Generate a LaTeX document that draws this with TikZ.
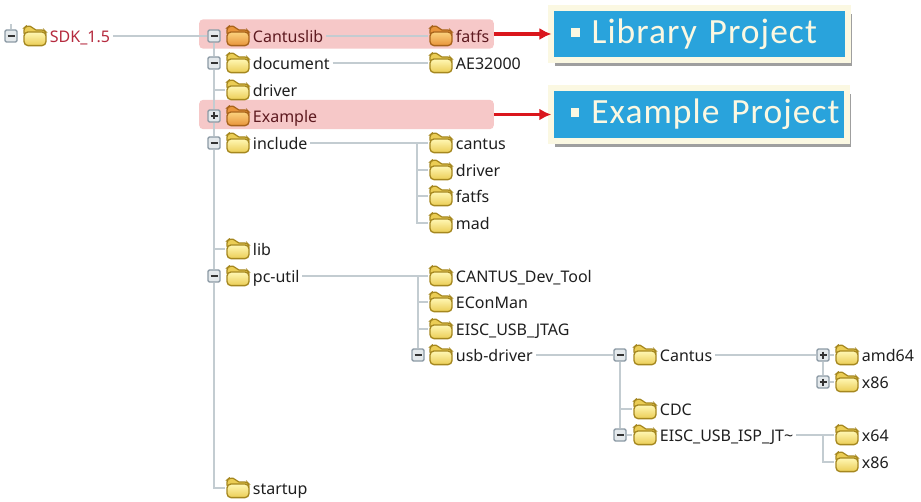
\documentclass[tikz,border=0pt]{standalone}
\usepackage{fontspec}
\setmainfont{Noto Sans}
\newfontfamily\callfont[LetterSpace=3]{Carlito}
\usetikzlibrary{
    arrows.meta,
    calc,
    positioning,
    shadows
}
\definecolor{treeline}{HTML}{C3CCD1}
\definecolor{boxline}{HTML}{8C9AA5}
\definecolor{boxfill}{HTML}{E4E9EC}
\definecolor{folderline}{HTML}{A5871F}
\definecolor{foldertop}{HTML}{FFF7B4}
\definecolor{folderbot}{HTML}{EBCD55}
\definecolor{hotline}{HTML}{A8631A}
\definecolor{hottop}{HTML}{FBD27E}
\definecolor{hotbot}{HTML}{E8943A}
\definecolor{bandpink}{HTML}{F6C8C8}
\definecolor{callblue}{HTML}{29A3DC}
\definecolor{callcream}{HTML}{FBF8E2}
\definecolor{arrowred}{HTML}{DA161C}
\definecolor{sdkred}{HTML}{B52A3E}
\definecolor{hottext}{HTML}{5E1A20}
\tikzset{
    foldershape/.style n args={3}{
        minimum width=18.6pt, minimum height=16pt, inner sep=0pt,
        path picture={
            \begin{scope}[shift={(path picture bounding box.center)}]
                \draw[#1, fill=#3, line width=0.9pt, rounded corners=1.5pt]
                    (-11,-1) -- (-11,-8) -- (-9,-9.8) -- (-3,-9.8) -- (-1,-6) -- (9,-6) -- (11,-4) -- (11,0) -- cycle;
                \draw[#1, top color=#2, bottom color=#3, line width=1pt, rounded corners=3pt]
                    (-11,-4) rectangle (11,9.6);
            \end{scope}
        }
    },
    folder/.style={foldershape={folderline}{foldertop}{folderbot}},
    hotfolder/.style={foldershape={hotline}{hottop}{hotbot}},
    lbl/.style={anchor=west, inner sep=0pt, text height=9.5pt, text depth=2.5pt, xshift=1.5pt, yshift=-1.1pt,
        font=\fontsize{12}{14}\selectfont, text=black!88},
    expbox/.style={draw=boxline, fill=boxfill, line width=1pt, rounded corners=1pt,
        minimum size=9pt, inner sep=0pt},
    minusbox/.style={expbox, path picture={
        \draw[black!80, line width=1pt] ($(path picture bounding box.center)+(-3.5,0)$) -- ++(7,0);}},
    plusbox/.style={expbox, path picture={
        \draw[black!80, line width=1pt] ($(path picture bounding box.center)+(-3.5,0)$) -- ++(7,0);
        \draw[black!80, line width=1pt] ($(path picture bounding box.center)+(0,-3.5)$) -- ++(0,7);}},
    tree/.style={draw=treeline, line width=0.9pt},
    fromlabel/.style={tree, shorten <=2pt},
    band/.style={fill=bandpink, rounded corners=3pt, minimum width=221pt, minimum height=22pt, inner sep=0pt},
    callout/.style={fill=callblue, draw=callcream, line width=4.5pt, outer sep=0pt, inner sep=0pt,
        general shadow={shadow xshift=2.8pt, shadow yshift=-4.6pt, fill=black!50, opacity=0.75},
        minimum height=39.4pt, align=left, text=callcream,
        font=\callfont\fontsize{26.6}{28}\selectfont},
    redarrow/.style={draw=arrowred, line width=2.3pt, -{Latex[length=9pt, width=9pt]}}
}
\newcommand{\callbullet}{\hspace*{14.6pt}\textcolor{callcream}{\raisebox{5pt}{\rule{6.5pt}{6.5pt}}}\hspace*{9pt}}
\begin{document}
\begin{tikzpicture}[x=0.75pt, y=-0.75pt]
    \useasboundingbox[fill=white] (0,0) rectangle (921,502);
    % highlight bands
    \node[band] (bandcantus) at (346.5,34) {};
    \node[band] (bandexample) at (346.5,114.5) {};
    % callouts
    \node[callout, text width=222.4pt] (calllib) at (699.75,34) {\callbullet Library Project};
    \node[callout, text width=222pt] (callex) at (699.25,114.5) {\callbullet Example Project};
    % folders with their labels
    \foreach \nm/\px/\py/\txt in {
        document/238/63/document, driver/238/90/driver, include/238/143/include,
        lib/238/249/lib, pcutil/238/276/pc-util, startup/238/488/startup,
        aedir/441/63/AE32000,
        cantus/441/143/cantus, drivertwo/441/170/driver, fatfstwo/441/196/fatfs, mad/441/223/mad,
        devtool/441/276/CANTUS\_Dev\_Tool, econman/441/302/EConMan, jtag/441/329/EISC\_USB\_JTAG,
        usbdriver/441/355/usb-driver,
        cantusdrv/645/355/Cantus, cdc/645/409/CDC, ispjt/645/435/EISC\_USB\_ISP\_JT\textasciitilde,
        amd/847/355/amd64, xa/847/382/x86, xsf/847/435/x64, xb/847/462/x86
    }{
        \node[folder] (\nm) at (\px,\py) {};
        \node[lbl] (\nm t) at (\nm.east) {\txt};
    }
    \foreach \nm/\px/\py/\txt in {
        cantuslib/238/36/Cantuslib, example/238/116/Example, fatfs/441/36/fatfs
    }{
        \node[hotfolder] (\nm) at (\px,\py) {};
        \node[lbl, text=hottext] (\nm t) at (\nm.east) {\txt};
    }
    \node[folder] (sdk) at (35,36) {};
    \node[lbl, text=sdkred] (sdkt) at (sdk.east) {SDK\_1.5};
    % expand boxes
    \foreach \nm/\px/\py in {
        bsdk/11/36, bcantuslib/214/36, bdocument/214/63, binclude/214/143, bpcutil/214/276,
        busb/418/355, bcantusdrv/620/355, bisp/620/435
    }{
        \node[minusbox] (\nm) at (\px,\py) {};
    }
    \foreach \nm/\px/\py in {
        bexample/214/116, bamd/823/355, bxa/823/382
    }{
        \node[plusbox] (\nm) at (\px,\py) {};
    }
    \coordinate (sdktop) at (11,24);
    \coordinate (jinclude) at (417,143);
    \coordinate (jpcutil) at (418,276);
    \coordinate (jisp) at (823,435);
    % tree lines
    \path[tree]
        (bsdk) -- (sdktop)
        (bcantuslib) -- (bdocument) -- (driver -| bdocument) -- (bexample) -- (binclude)
            -- (lib -| binclude) -- (bpcutil) -- (startup -| bpcutil) -- (startup)
        (driver -| bdocument) -- (driver)
        (lib -| bdocument) -- (lib)
        (jinclude) -- (mad -| jinclude) -- (mad)
        (drivertwo -| jinclude) -- (drivertwo)
        (fatfstwo -| jinclude) -- (fatfstwo)
        (jpcutil) -- (busb)
        (econman -| jpcutil) -- (econman)
        (jtag -| jpcutil) -- (jtag)
        (bcantusdrv) -- (cdc -| bcantusdrv) -- (bisp)
        (cdc -| bcantusdrv) -- (cdc)
        (bamd) -- (bxa)
        (bamd) -- (amd)
        (bxa) -- (xa)
        (bisp) -- (ispjt)
        (jisp) -- (xb -| jisp) -- (xb);
    \draw[fromlabel] (sdkt.east |- bcantuslib) -- (bcantuslib);
    \draw[fromlabel] (cantuslibt.east |- fatfs) -- (fatfs);
    \draw[fromlabel] (documentt.east |- aedir) -- (aedir);
    \draw[fromlabel] (includet.east |- cantus) -- (cantus);
    \draw[fromlabel] (pcutilt.east |- devtool) -- (devtool);
    \draw[fromlabel] (usbdrivert.east |- bcantusdrv) -- (bcantusdrv);
    \draw[fromlabel] (cantusdrvt.east |- bamd) -- (bamd);
    \draw[fromlabel] (ispjtt.east |- xsf) -- (xsf);
    % arrows
    \draw[redarrow] (bandcantus.east) -- (calllib.west);
    \draw[redarrow] (bandexample.east) -- (callex.west);
\end{tikzpicture}
\end{document}
